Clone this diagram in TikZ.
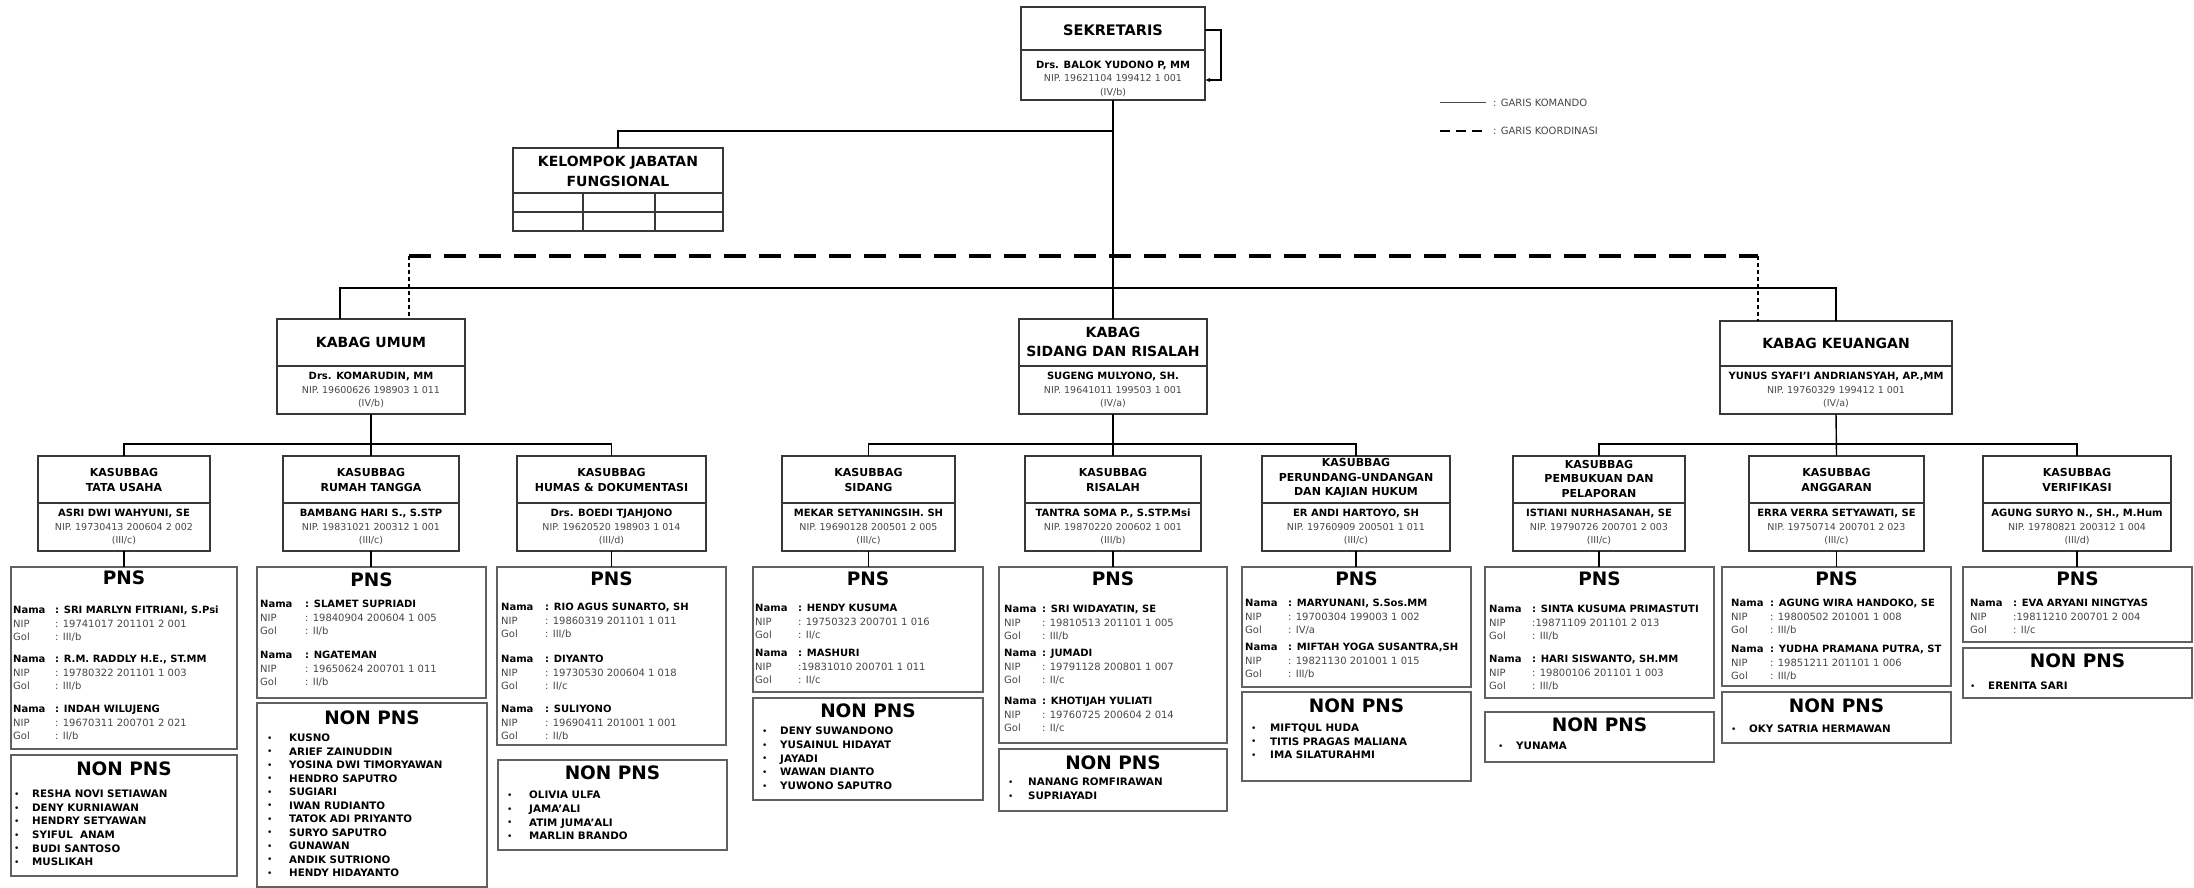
\documentclass[tikz,border=0pt]{standalone}
\usepackage{fontspec}
\setmainfont{DejaVu Sans}
\usetikzlibrary{arrows.meta}
\newlength\pcolw
\newcommand\FS[2]{\fontsize{#1}{#2}\selectfont}
\tikzset{
  box/.style={draw=black!78, line width=1.5pt, inner sep=0pt, outer sep=0pt, anchor=north west},
  pbox/.style={draw=black!62, line width=1.6pt, inner sep=0pt, outer sep=0pt, anchor=north west},
  divl/.style={draw=black!78, line width=1.5pt},
  link/.style={draw=black, line width=1.4pt},
  coordl/.style={draw=black, line width=3.6pt, dash pattern=on 22pt off 13pt},
  dotl/.style={draw=black, line width=1.8pt, dash pattern=on 4pt off 3pt},
  ttl/.style={inner sep=0pt, align=center, anchor=center},
  txt/.style={inner sep=0pt, anchor=base},
  greytext/.style={text=black!72},
  pnsT/.style={inner sep=0pt, anchor=center, font={\FS{18.5}{20}\bfseries}},
  kasT/.style={ttl, font={\FS{11}{15}\bfseries}},
  kabT/.style={ttl, font={\FS{14}{19}\bfseries}},
}
\newcommand\OBox[6]{%
  \node[box, minimum width={(#4-#2)*1pt}, minimum height={(#5-#3)*1pt}] (#1) at (#2,#3) {};
  \draw[divl] (#2,#6) -- (#4,#6);}
\newcommand\PBox[5]{%
  \node[pbox, minimum width={(#4-#2)*1pt}, minimum height={(#5-#3)*1pt}] (#1) at (#2,#3) {};}
\newcommand\Person[6]{%
  \node[txt, font={\FS{10}{12}\bfseries}] (#1n) at (#2,{#3+3.6}) {#4};
  \node[txt, greytext, font={\FS{9.5}{12}}] (#1i) at (#2,{#3+17}) {#5};
  \node[txt, greytext, font={\FS{9.5}{12}}] (#1g) at (#2,{#3+30.3}) {#6};}
\newcommand\Pns[6]{%
  \node[txt, anchor=base west, font={\FS{10}{12}\bfseries}] (#1a) at (#2,{#3+3.6}) {\makebox[\pcolw][l]{Nama}#4};
  \node[txt, anchor=base west, greytext, font={\FS{10}{12}}] (#1b) at (#2,{#3+17.1}) {\makebox[\pcolw][l]{NIP}#5};
  \node[txt, anchor=base west, greytext, font={\FS{10}{12}}] (#1c) at (#2,{#3+30.6}) {\makebox[\pcolw][l]{Gol}#6};}
\newcommand\Itm[5]{%
  \node[txt, anchor=base west, font={\FS{9}{11}}] (#1b) at (#2,{#4+3.4}) {\textbullet};
  \node[txt, anchor=base west, font={\FS{10.3}{12}\bfseries}] (#1) at (#3,{#4+3.7}) {#5};}
\begin{document}
\begin{tikzpicture}[x=1pt,y=-1pt]
\useasboundingbox (0,0) rectangle (2194,888);
\fill[white] (0,0) rectangle (2194,888);

% legend
\coordinate (lgA1) at (1440,103); \coordinate (lgA2) at (1486,103);
\coordinate (lgB1) at (1440,131); \coordinate (lgB2) at (1486,131);
\draw[draw=black!70, line width=1pt] (lgA1) -- (lgA2);
\draw[draw=black, line width=2pt, dash pattern=on 10pt off 6pt] (lgB1) -- (lgB2);
\node[inner sep=0pt, anchor=west, font={\FS{10}{12}}, greytext] (lgA) at (1493,103) {: GARIS KOMANDO};
\node[inner sep=0pt, anchor=west, font={\FS{10}{12}}, greytext] (lgB) at (1493,131) {: GARIS KOORDINASI};

% sekretaris
\OBox{sek}{1021}{7}{1205}{100}{50}
\node[ttl, font={\FS{14.5}{17}\bfseries}] (sekT) at (1113,30) {SEKRETARIS};
\Person{sekP}{1113}{65}{Drs. BALOK YUDONO P, MM}{NIP. 19621104 199412 1 001}{(IV/b)}
\draw[link, line width=1.2pt, -{Latex[length=5pt,width=4.5pt]}] (sek.east |- sekT.center) -- ++(16,0) |- ([yshift=20pt]sek.south east);

% kelompok jabatan fungsional
\node[box, minimum width=210pt, minimum height=83pt] (kjf) at (513,148) {};
\node[ttl, font={\FS{14}{20}\bfseries}] (kjfT) at (618,171) {KELOMPOK JABATAN\\FUNGSIONAL};
\draw[divl] (513,193) -- (723,193);
\draw[divl] (513,212) -- (723,212);
\draw[divl] (583,193) -- (583,231);
\draw[divl] (655,193) -- (655,231);

% kabag
\OBox{kbU}{277}{319}{465}{414}{366}
\node[kabT] (kbUT) at (371,342) {KABAG UMUM};
\Person{kbUP}{371}{376}{Drs. KOMARUDIN, MM}{NIP. 19600626 198903 1 011}{(IV/b)}
\OBox{kbS}{1019}{319}{1207}{414}{366}
\node[kabT] (kbST) at (1113,341.5) {KABAG\\SIDANG DAN RISALAH};
\Person{kbSP}{1113}{376}{SUGENG MULYONO, SH.}{NIP. 19641011 199503 1 001}{(IV/a)}
\OBox{kbK}{1720}{321}{1952}{414}{366}
\node[kabT] (kbKT) at (1836,343) {KABAG KEUANGAN};
\Person{kbKP}{1836}{376}{YUNUS SYAFI'I ANDRIANSYAH, AP.,MM}{NIP. 19760329 199412 1 001}{(IV/a)}

% kasubbag
\OBox{ksTU}{38}{456}{210}{551}{503}
\node[kasT] (ksTUT) at (124,479.5) {KASUBBAG\\TATA USAHA};
\Person{ksTUP}{124}{513}{ASRI DWI WAHYUNI, SE}{NIP. 19730413 200604 2 002}{(III/c)}
\OBox{ksRT}{283}{456}{459}{551}{503}
\node[kasT] (ksRTT) at (371,479.5) {KASUBBAG\\RUMAH TANGGA};
\Person{ksRTP}{371}{513}{BAMBANG HARI S., S.STP}{NIP. 19831021 200312 1 001}{(III/c)}
\OBox{ksHM}{517}{456}{706}{551}{503}
\node[kasT] (ksHMT) at (611.5,479.5) {KASUBBAG\\HUMAS \& DOKUMENTASI};
\Person{ksHMP}{611.5}{513}{Drs. BOEDI TJAHJONO}{NIP. 19620520 198903 1 014}{(III/d)}
\OBox{ksSD}{782}{456}{955}{551}{503}
\node[kasT] (ksSDT) at (868.5,479.5) {KASUBBAG\\SIDANG};
\Person{ksSDP}{868.5}{513}{MEKAR SETYANINGSIH. SH}{NIP. 19690128 200501 2 005}{(III/c)}
\OBox{ksRS}{1025}{456}{1201}{551}{503}
\node[kasT] (ksRST) at (1113,479.5) {KASUBBAG\\RISALAH};
\Person{ksRSP}{1113}{513}{TANTRA SOMA P., S.STP.Msi}{NIP. 19870220 200602 1 001}{(III/b)}
\OBox{ksPU}{1262}{456}{1450}{551}{503}
\node[ttl, font={\FS{11}{14.5}\bfseries}] (ksPUT) at (1356,478.5) {KASUBBAG\\PERUNDANG-UNDANGAN\\DAN KAJIAN HUKUM};
\Person{ksPUP}{1356}{513}{ER ANDI HARTOYO, SH}{NIP. 19760909 200501 1 011}{(III/c)}
\OBox{ksPB}{1513}{456}{1685}{551}{503}
\node[ttl, font={\FS{11}{14.5}\bfseries}] (ksPBT) at (1599,478.5) {KASUBBAG\\PEMBUKUAN DAN\\PELAPORAN};
\Person{ksPBP}{1599}{513}{ISTIANI NURHASANAH, SE}{NIP. 19790726 200701 2 003}{(III/c)}
\OBox{ksAG}{1749}{456}{1924}{551}{503}
\node[kasT] (ksAGT) at (1836.5,479.5) {KASUBBAG\\ANGGARAN};
\Person{ksAGP}{1836.5}{513}{ERRA VERRA SETYAWATI, SE}{NIP. 19750714 200701 2 023}{(III/c)}
\OBox{ksVR}{1983}{456}{2171}{551}{503}
\node[kasT] (ksVRT) at (2077,479.5) {KASUBBAG\\VERIFIKASI};
\Person{ksVRP}{2077}{513}{AGUNG SURYO N., SH., M.Hum}{NIP. 19780821 200312 1 004}{(III/d)}

% top connectors
\draw[link, line width=1.8pt] (sek.south) -- (kbS.north);
\coordinate (jk) at (1113,131);
\draw[link] (jk) -| (kjf.north);
\coordinate (kmL) at (340,288); \coordinate (kmR) at (1836,288);
\draw[link] (kbU.north -| kmL) -- (kmL) -- (kmR) -- (kbK.north);
\coordinate (cdL) at (409,256); \coordinate (cdR) at (1758,256);
\draw[coordl] (cdL) -- (cdR);
\draw[dotl] (cdL) -- (kbU.north -| cdL);
\draw[dotl] (cdR) -- (kbK.north -| cdR);

% kabag -> kasubbag
\coordinate (hh) at (0,444);
\draw[link] (kbU.south) -- (ksRT.north);
\draw[link] (ksTU.north) -- (ksTU.north |- hh) -- (ksHM.north |- hh) -- (ksHM.north);
\draw[link] (kbS.south) -- (ksRS.north);
\draw[link] (ksSD.north) -- (ksSD.north |- hh) -- (ksPU.north |- hh) -- (ksPU.north);
\draw[link] (kbK.south) -- (ksAG.north);
\draw[link] (ksPB.north) -- (ksPB.north |- hh) -- (ksVR.north |- hh) -- (ksVR.north);

% ---------- PNS / NON PNS boxes ----------
% 1 Tata Usaha
\PBox{pn1}{11}{567}{237}{749}
\node[pnsT] (pn1T) at (124,578) {PNS};
\setlength\pcolw{42pt}
\Pns{p1a}{13}{610}{: SRI MARLYN FITRIANI, S.Psi}{: 19741017 201101 2 001}{: III/b}
\Pns{p1b}{13}{659}{: R.M. RADDLY H.E., ST.MM}{: 19780322 201101 1 003}{: III/b}
\Pns{p1c}{13}{709}{: INDAH WILUJENG}{: 19670311 200701 2 021}{: II/b}
\PBox{np1}{11}{755}{237}{876}
\node[pnsT] (np1T) at (124,769) {NON PNS};
\foreach \t [count=\k] in {RESHA NOVI SETIAWAN, DENY KURNIAWAN, HENDRY SETYAWAN, SYIFUL\ \ ANAM, BUDI SANTOSO, MUSLIKAH}
  {\Itm{q1\k}{14}{32}{794+13.6*(\k-1)}{\t}}

% 2 Rumah Tangga
\PBox{pn2}{257}{567}{486}{698}
\node[pnsT] (pn2T) at (371.5,580) {PNS};
\setlength\pcolw{45pt}
\Pns{p2a}{260}{604}{: SLAMET SUPRIADI}{: 19840904 200604 1 005}{: II/b}
\Pns{p2b}{260}{655}{: NGATEMAN}{: 19650624 200701 1 011}{: II/b}
\PBox{np2}{257}{703}{487}{887}
\node[pnsT] (np2T) at (372,718) {NON PNS};
\foreach \t [count=\k] in {KUSNO, ARIEF ZAINUDDIN, YOSINA DWI TIMORYAWAN, HENDRO SAPUTRO, SUGIARI, IWAN RUDIANTO, TATOK ADI PRIYANTO, SURYO SAPUTRO, GUNAWAN, ANDIK SUTRIONO, HENDY HIDAYANTO}
  {\Itm{q2\k}{267}{289}{738+13.5*(\k-1)}{\t}}

% 3 Humas
\PBox{pn3}{497}{567}{726}{745}
\node[pnsT] (pn3T) at (611.5,579) {PNS};
\setlength\pcolw{44pt}
\Pns{p3a}{501}{607}{: RIO AGUS SUNARTO, SH}{: 19860319 201101 1 011}{: III/b}
\Pns{p3b}{501}{659}{: DIYANTO}{: 19730530 200604 1 018}{: II/c}
\Pns{p3c}{501}{709}{: SULIYONO}{: 19690411 201001 1 001}{: II/b}
\PBox{np3}{498}{760}{727}{850}
\node[pnsT] (np3T) at (612.5,773) {NON PNS};
\foreach \t [count=\k] in {OLIVIA ULFA, JAMA'ALI, ATIM JUMA'ALI, MARLIN BRANDO}
  {\Itm{q3\k}{507}{529}{795+13.7*(\k-1)}{\t}}

% 4 Sidang
\PBox{pn4}{753}{567}{983}{692}
\node[pnsT] (pn4T) at (868,579) {PNS};
\setlength\pcolw{43pt}
\Pns{p4a}{755}{608}{: HENDY KUSUMA}{: 19750323 200701 1 016}{: II/c}
\Pns{p4b}{755}{653}{: MASHURI}{:19831010 200701 1 011}{: II/c}
\PBox{np4}{753}{698}{983}{800}
\node[pnsT] (np4T) at (868,711) {NON PNS};
\foreach \t [count=\k] in {DENY SUWANDONO, YUSAINUL HIDAYAT, JAYADI, WAWAN DIANTO, YUWONO SAPUTRO}
  {\Itm{q4\k}{762}{780}{731+13.7*(\k-1)}{\t}}

% 5 Risalah
\PBox{pn5}{999}{567}{1227}{743}
\node[pnsT] (pn5T) at (1113,579) {PNS};
\setlength\pcolw{38pt}
\Pns{p5a}{1004}{609}{: SRI WIDAYATIN, SE}{: 19810513 201101 1 005}{: III/b}
\Pns{p5b}{1004}{653}{: JUMADI}{: 19791128 200801 1 007}{: II/c}
\Pns{p5c}{1004}{701}{: KHOTIJAH YULIATI}{: 19760725 200604 2 014}{: II/c}
\PBox{np5}{999}{749}{1227}{811}
\node[pnsT] (np5T) at (1113,763) {NON PNS};
\foreach \t [count=\k] in {NANANG ROMFIRAWAN, SUPRIAYADI}
  {\Itm{q5\k}{1008}{1028}{782+14*(\k-1)}{\t}}

% 6 Perundang-undangan
\PBox{pn6}{1242}{567}{1471}{687}
\node[pnsT] (pn6T) at (1356.5,579) {PNS};
\setlength\pcolw{43pt}
\Pns{p6a}{1245}{603}{: MARYUNANI, S.Sos.MM}{: 19700304 199003 1 002}{: IV/a}
\Pns{p6b}{1245}{647}{: MIFTAH YOGA SUSANTRA,SH}{: 19821130 201001 1 015}{: III/b}
\PBox{np6}{1242}{692}{1471}{781}
\node[pnsT] (np6T) at (1356.5,706) {NON PNS};
\foreach \t [count=\k] in {MIFTQUL HUDA, TITIS PRAGAS MALIANA, IMA SILATURAHMI}
  {\Itm{q6\k}{1251}{1270}{728+13.5*(\k-1)}{\t}}

% 7 Pembukuan
\PBox{pn7}{1485}{567}{1714}{698}
\node[pnsT] (pn7T) at (1599.5,579) {PNS};
\setlength\pcolw{43pt}
\Pns{p7a}{1489}{609}{: SINTA KUSUMA PRIMASTUTI}{:19871109 201101 2 013}{: III/b}
\Pns{p7b}{1489}{659}{: HARI SISWANTO, SH.MM}{: 19800106 201101 1 003}{: III/b}
\PBox{np7}{1485}{712}{1714}{762}
\node[pnsT] (np7T) at (1599.5,725) {NON PNS};
\Itm{q71}{1498}{1516}{746}{YUNAMA}

% 8 Anggaran
\PBox{pn8}{1722}{567}{1951}{686}
\node[pnsT] (pn8T) at (1836.5,579) {PNS};
\setlength\pcolw{39pt}
\Pns{p8a}{1731}{603}{: AGUNG WIRA HANDOKO, SE}{: 19800502 201001 1 008}{: III/b}
\Pns{p8b}{1731}{649}{: YUDHA PRAMANA PUTRA, ST}{: 19851211 201101 1 006}{: III/b}
\PBox{np8}{1722}{692}{1951}{743}
\node[pnsT] (np8T) at (1836.5,706) {NON PNS};
\Itm{q81}{1731}{1749}{729}{OKY SATRIA HERMAWAN}

% 9 Verifikasi
\PBox{pn9}{1963}{567}{2192}{642}
\node[pnsT] (pn9T) at (2077.5,579) {PNS};
\setlength\pcolw{43pt}
\Pns{p9a}{1970}{603}{: EVA ARYANI NINGTYAS}{:19811210 200701 2 004}{: II/c}
\PBox{np9}{1963}{648}{2192}{698}
\node[pnsT] (np9T) at (2077.5,661) {NON PNS};
\Itm{q91}{1970}{1988}{686}{ERENITA SARI}

% kasubbag -> PNS
\draw[link] (ksTU.south) -- (ksTU.south |- pn1.north);
\draw[link] (ksRT.south) -- (ksRT.south |- pn2.north);
\draw[link] (ksHM.south) -- (ksHM.south |- pn3.north);
\draw[link] (ksSD.south) -- (ksSD.south |- pn4.north);
\draw[link] (ksRS.south) -- (ksRS.south |- pn5.north);
\draw[link] (ksPU.south) -- (ksPU.south |- pn6.north);
\draw[link] (ksPB.south) -- (ksPB.south |- pn7.north);
\draw[link] (ksAG.south) -- (ksAG.south |- pn8.north);
\draw[link] (ksVR.south) -- (ksVR.south |- pn9.north);
\end{tikzpicture}
\end{document}
